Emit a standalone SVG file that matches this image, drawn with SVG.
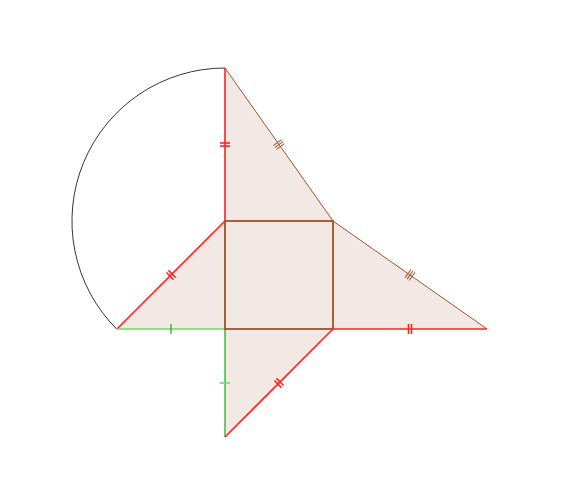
<svg xmlns="http://www.w3.org/2000/svg" width="564" height="478" viewBox="0 0 564 478">
<style>
.fill{fill:#f3e9e4;stroke:none}
.red{stroke:#ff2020;stroke-width:1.6;fill:none}
.brown{stroke:#a0522d;stroke-width:1;fill:none}
.sq{stroke:#a0522d;stroke-width:1.8;fill:none}
.gl{stroke:#66dd66;stroke-width:1.6;fill:none}
.gd{stroke:#11aa11;stroke-width:1.2;fill:none}
.arc{stroke:#000;stroke-width:0.8;fill:none}
</style>
<rect width="564" height="478" fill="#fff"/>
<g id="fills">
<polygon class="fill" points="225,68 333,221 225,221"/>
<polygon class="fill" points="333,221 487,329 333,329"/>
<polygon class="fill" points="225,221 225,329 117,329"/>
<polygon class="fill" points="225,329 333,329 225,437"/>
<rect class="fill" x="225" y="221" width="108" height="108"/>
</g>
<g id="arc">
<path class="arc" d="M225,68 A153,153 0 0 0 116.8,329.2"/>
</g>
<g id="connectors">
<line class="red" x1="225" y1="68" x2="225" y2="221"/>
<line class="brown" x1="225" y1="68" x2="333" y2="221"/>
<line class="brown" x1="333" y1="221" x2="487" y2="329"/>
<line class="red" x1="333" y1="329" x2="487" y2="329"/>
<line class="red" x1="117" y1="329" x2="225" y2="221"/>
<line class="gl" x1="117" y1="329" x2="225" y2="329"/>
<line class="gd" x1="225" y1="329" x2="225" y2="437"/>
<line class="red" x1="333" y1="329" x2="225" y2="437"/>
</g>
<g id="square">
<rect class="sq" x="225" y="221" width="108" height="108"/>
</g>
<g id="ticks">
<g transform="translate(225,144.5) rotate(90)"><line class="red" x1="-1.5" y1="-5" x2="-1.5" y2="5"/><line class="red" x1="1.5" y1="-5" x2="1.5" y2="5"/></g>
<g transform="translate(279,144.5) rotate(54.78)"><line class="brown" x1="-2.5" y1="-5" x2="-2.5" y2="5"/><line class="brown" x1="0" y1="-5" x2="0" y2="5"/><line class="brown" x1="2.5" y1="-5" x2="2.5" y2="5"/></g>
<g transform="translate(410,275) rotate(35.04)"><line class="brown" x1="-2.5" y1="-5" x2="-2.5" y2="5"/><line class="brown" x1="0" y1="-5" x2="0" y2="5"/><line class="brown" x1="2.5" y1="-5" x2="2.5" y2="5"/></g>
<g transform="translate(410,329)"><line class="red" x1="-1.5" y1="-5" x2="-1.5" y2="5"/><line class="red" x1="1.5" y1="-5" x2="1.5" y2="5"/></g>
<g transform="translate(171,275) rotate(-45)"><line class="red" x1="-1.5" y1="-5" x2="-1.5" y2="5"/><line class="red" x1="1.5" y1="-5" x2="1.5" y2="5"/></g>
<g transform="translate(279,383) rotate(135)"><line class="red" x1="-1.5" y1="-5" x2="-1.5" y2="5"/><line class="red" x1="1.5" y1="-5" x2="1.5" y2="5"/></g>
<line class="gd" x1="171" y1="324" x2="171" y2="334"/>
<line class="gl" x1="220" y1="383" x2="230" y2="383"/>
</g>
</svg>
